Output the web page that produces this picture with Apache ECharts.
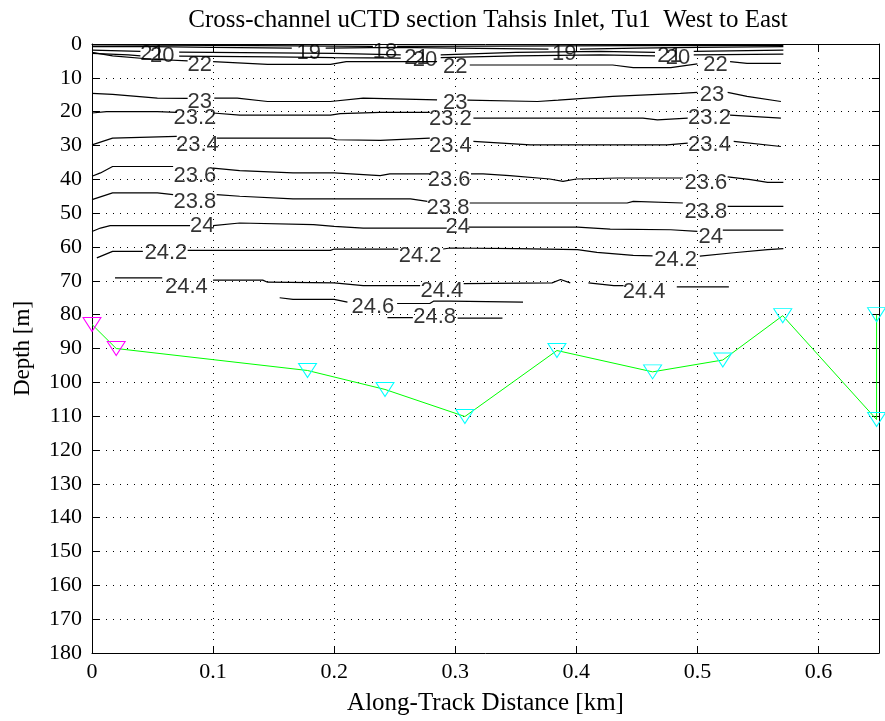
<!DOCTYPE html>
<html>
<head>
<meta charset="utf-8">
<script src="https://cdn.jsdelivr.net/npm/echarts@6/dist/echarts.min.js"></script>
<style>
html, body { margin: 0; padding: 0; background: #fff; }
#chart { width: 885px; height: 721px; }
</style>
</head>
<body>
<div id="chart"></div>
<script>
// axis ranges
var distRange = [0, 0.65];
var depthRange = [0, 180];

// bottom (cast positions) : distance [km] / depth [m]
var bottomDist  = [0, 0.02, 0.178, 0.242, 0.308, 0.384, 0.463, 0.521, 0.5705, 0.648, 0.648];
var bottomDepth = [82.9, 90, 96.5, 102.1, 110.1, 90.6, 96.9, 93.4, 80.3, 111, 80];

// sigma-t contours, [distance, depth], null = gap for the inline label
var c18 = [[0,0.3],[0.1,0.4],[0.2,0.6],[0.232,0.7],null,[0.252,0.7],[0.33,0.6],[0.45,0.5],[0.571,0.4]];
var c19 = [[0,0.8],[0.05,0.8],[0.1,1.0],[0.165,1.2],null,[0.193,1.2],[0.25,1.0],[0.3,1.2],[0.377,1.5],null,[0.403,1.5],[0.45,1.2],[0.5,1.0],[0.571,0.8]];
var c20 = [[0,1.8],[0.04,2.2],null,[0.072,2.4],[0.15,2.6],[0.2,2.8],[0.255,3.2],null,[0.288,3.2],[0.35,2.5],[0.42,2.2],[0.465,2.5],null,[0.497,2.2],[0.571,1.8]];
var c21 = [[0,2.8],[0.03,3.2],[0.04,3.5],null,[0.072,3.6],[0.15,3.8],[0.2,4.0],[0.255,4.2],null,[0.288,4.0],[0.35,3.5],[0.42,3.2],[0.465,3.5],null,[0.497,3.2],[0.571,3.0]];
var c22 = [[0,2.5],[0.017,3.5],[0.05,4.5],[0.079,5.0],null,[0.1,5.2],[0.145,6],[0.197,6],[0.21,5.2],[0.285,5.2],null,[0.312,6.2],[0.43,6.2],[0.447,7.0],[0.478,7.0],[0.5,5.9],null,[0.527,5.2],[0.541,5.7],[0.569,5.7]];
var c23 = [[0,14.6],[0.017,14.9],[0.054,16],[0.079,16.1],null,[0.101,16],[0.12,16],[0.145,17],[0.197,17],[0.224,16],[0.285,16.5],null,[0.31,16.6],[0.368,17],[0.385,16.6],[0.43,15.5],[0.486,14.6],[0.5,14.3],null,[0.525,14.3],[0.541,15.5],[0.569,17]];
var c23_2 = [[0,20.4],[0.012,20],[0.054,20],[0.07,20.2],null,[0.1,20.4],[0.122,21],[0.197,21],[0.205,20.6],[0.238,20.2],[0.279,20.2],null,[0.315,21.9],[0.455,21.9],[0.467,22.4],[0.492,21.9],null,[0.527,21],[0.541,21.3],[0.569,21.9]];
var c23_4 = [[0,29.8],[0.017,27.8],[0.07,27.3],null,[0.103,27.8],[0.197,27.8],[0.202,28.3],[0.238,28.5],[0.279,27.8],null,[0.315,28.8],[0.362,29.8],[0.475,29.8],[0.492,29.3],null,[0.53,28.8],[0.569,30.3]];
var c23_6 = [[0,39.1],[0.007,38.1],[0.017,36.2],[0.067,36.2],null,[0.1,36.7],[0.122,37.4],[0.166,38.1],[0.2,38.1],[0.238,38.9],[0.246,38.4],[0.279,38.4],null,[0.313,38.4],[0.323,38.4],[0.345,38.9],[0.378,39.9],[0.389,40.6],[0.4,39.9],[0.434,39.6],[0.488,39.6],null,[0.525,39.3],[0.544,40.1],[0.558,40.9],[0.571,40.9]];
var c23_8 = [[0,46],[0.017,44],[0.054,44],[0.067,44.5],null,[0.103,44.5],[0.122,45],[0.166,45.8],[0.263,45.8],[0.277,46.5],null,[0.312,47],[0.442,47],[0.447,46.5],[0.488,47],null,[0.525,48],[0.571,48]];
var c24 = [[0,55.4],[0.007,54.4],[0.015,53.7],[0.081,53.7],null,[0.1,53.7],[0.122,52.9],[0.183,53.4],[0.2,53.9],[0.224,54.4],[0.293,54.4],null,[0.311,54.1],[0.401,54.1],[0.428,54.7],[0.478,54.9],[0.5,55.4],null,[0.521,55],[0.571,55]];
var c24_2 = [[0.004,63.2],[0.017,61.3],[0.042,61.3],null,[0.079,61],[0.197,61],[0.2,60.6],[0.253,60.6],null,[0.29,60.6],[0.296,60.3],[0.351,60.5],[0.401,60.8],[0.417,61.6],[0.447,62.5],[0.463,62.6],null,[0.502,62.7],[0.53,61.7],[0.558,60.8],[0.571,60.5]];
var c24_4 = [[0.019,69.1],[0.058,69.1],null,[0.1,69.8],[0.141,69.8],[0.145,70.4],[0.2,70.6],[0.224,71.4],[0.271,71.4],null,[0.307,70.8],[0.38,70.6],[0.387,69.6],[0.395,70.6],null,[0.41,70.6],[0.431,71.4],[0.439,71.4],null,[0.483,71.8],[0.526,71.8]];
var c24_6 = [[0.155,75],[0.166,75.5],[0.2,75.5],[0.211,76.3],null,[0.252,76.7],[0.279,76.7],[0.282,76],[0.296,76],[0.356,76.3]];
var c24_8 = [[0.244,80.9],[0.265,80.9],null,[0.302,81],[0.339,81]];

// inline contour labels [distance, depth, text]
var contourLabels = [
  [0.242,2.2,'18'],
  [0.179,2.5,'19'], [0.39,2.8,'19'],
  [0.05,3.0,'21'], [0.058,3.6,'20'], [0.268,4.2,'21'], [0.275,4.8,'20'], [0.477,3.6,'21'], [0.484,4.2,'20'],
  [0.089,6.3,'22'], [0.30,6.9,'22'], [0.515,6.3,'22'],
  [0.089,17,'23'], [0.300,17.3,'23'], [0.512,15.2,'23'],
  [0.085,21.8,'23.2'], [0.296,22.2,'23.2'], [0.510,22.0,'23.2'],
  [0.087,29.8,'23.4'], [0.296,30,'23.4'], [0.510,29.8,'23.4'],
  [0.085,39.1,'23.6'], [0.295,40.3,'23.6'], [0.507,41.1,'23.6'],
  [0.085,46.8,'23.8'], [0.294,48.4,'23.8'], [0.507,49.5,'23.8'],
  [0.091,53.7,'24'], [0.302,54.1,'24'], [0.511,57,'24'],
  [0.061,61.7,'24.2'], [0.271,62.7,'24.2'], [0.482,63.7,'24.2'],
  [0.078,71.8,'24.4'], [0.289,72.9,'24.4'], [0.456,73.3,'24.4'],
  [0.232,77.7,'24.6'],
  [0.283,80.7,'24.8']
];

var contours = [c18, c19, c20, c21, c22, c23, c23_2, c23_4, c23_6, c23_8, c24, c24_2, c24_4, c24_6, c24_8];

var serif = 'Liberation Serif';

var series = contours.map(function (path) {
  return {
    type: 'line',
    data: path.map(function (p) { return p ? p : ['-', '-']; }),
    symbol: 'none',
    connectNulls: false,
    silent: true,
    lineStyle: { color: '#000', width: 1.2 },
    z: 2
  };
});

series.push({
  type: 'scatter',
  data: contourLabels.map(function (l) { return { value: [l[0], l[1]], name: l[2] }; }),
  symbolSize: 1,
  itemStyle: { color: 'rgba(0,0,0,0)' },
  silent: true,
  label: {
    show: true, position: 'inside', formatter: '{b}',
    color: '#000', fontFamily: 'Liberation Sans', fontSize: 22
  },
  z: 3
});

series.push({
  type: 'line',
  data: bottomDist.map(function (x, i) {
    return { value: [x, bottomDepth[i]], itemStyle: { borderColor: i < 2 ? '#ff00ff' : '#00ffff' } };
  }),
  symbol: 'path://M0,0L20,0L10,16Z',
  symbolSize: [18, 14],
  showAllSymbol: true,
  itemStyle: { color: 'rgba(0,0,0,0)', borderColor: '#00ffff', borderWidth: 1 },
  lineStyle: { color: '#00ff00', width: 1 },
  silent: true,
  z: 4
});

var axisLine = { show: true, onZero: false, lineStyle: { color: '#000', width: 1 } };
var tick = { show: true, inside: true, length: 7, lineStyle: { color: '#000' } };
var grid = { show: true, lineStyle: { color: '#000', width: 1, type: [1, 6] } };

var option = {
  animation: false,
  backgroundColor: '#fff',
  title: {
    text: 'Cross-channel uCTD section Tahsis Inlet, Tu1  West to East',
    left: 483, top: 3, textAlign: 'center',
    textStyle: { fontFamily: serif, fontSize: 25, fontWeight: 'normal', color: '#000' }
  },
  grid: { left: 92, right: 6, top: 44, bottom: 67 },
  xAxis: [{
    type: 'value', min: distRange[0], max: distRange[1], interval: 0.1, position: 'bottom',
    axisLine: axisLine, axisTick: tick, splitLine: grid,
    axisLabel: { color: '#000', fontFamily: serif, fontSize: 22, margin: 8, showMaxLabel: false },
    name: 'Along-Track Distance [km]', nameLocation: 'middle', nameGap: 38,
    nameTextStyle: { color: '#000', fontFamily: serif, fontSize: 25 }
  }, {
    type: 'value', min: distRange[0], max: distRange[1], interval: 0.1, position: 'top',
    axisLine: axisLine, axisTick: tick, axisLabel: { show: false }, splitLine: { show: false }
  }],
  yAxis: [{
    type: 'value', min: depthRange[0], max: depthRange[1], interval: 10, inverse: true, position: 'left',
    axisLine: axisLine, axisTick: tick, splitLine: grid,
    axisLabel: { color: '#000', fontFamily: serif, fontSize: 22, margin: 10 },
    name: 'Depth [m]', nameLocation: 'middle', nameGap: 58,
    nameTextStyle: { color: '#000', fontFamily: serif, fontSize: 23 }
  }, {
    type: 'value', min: depthRange[0], max: depthRange[1], interval: 10, inverse: true, position: 'right',
    axisLine: axisLine, axisTick: tick, axisLabel: { show: false }, splitLine: { show: false }
  }],
  series: series
};

var myChart = echarts.init(document.getElementById('chart'));
myChart.setOption(option);
</script>
</body>
</html>
